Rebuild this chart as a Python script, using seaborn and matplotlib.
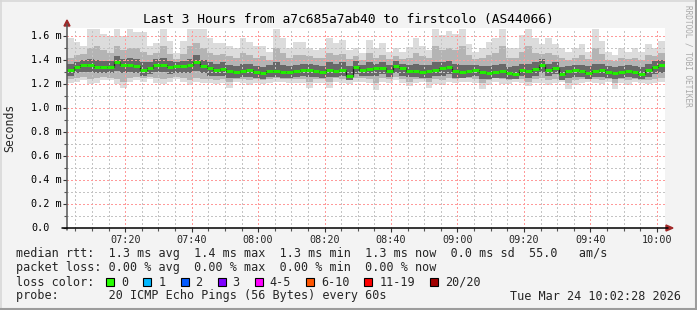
import numpy as np
import matplotlib
matplotlib.use("Agg")
import matplotlib.pyplot as plt
import matplotlib.transforms as mtrans
from matplotlib.patches import Rectangle, Polygon
from matplotlib.lines import Line2D
import seaborn as sns

# ---------------- data (2-minute steps, values in ms) ----------------
start_min = 7 * 60 + 2 + 28 / 60.0      # 07:02:28
step_min = 2.0

median = [1.32, 1.34, 1.36, 1.36, 1.34, 1.34, 1.34, 1.38, 1.36, 1.36, 1.35, 1.32, 1.33, 1.36, 1.36, 1.34, 1.35, 1.35,
          1.355, 1.385, 1.35, 1.33, 1.32, 1.325, 1.31, 1.30, 1.31, 1.32, 1.30, 1.29, 1.31, 1.31, 1.30, 1.30, 1.305, 1.32,
          1.32, 1.31, 1.30, 1.32, 1.31, 1.32, 1.27, 1.34, 1.32, 1.325, 1.33, 1.335, 1.31, 1.35, 1.33, 1.31, 1.305, 1.30,
          1.31, 1.32, 1.33, 1.34, 1.31, 1.30, 1.31, 1.32, 1.30, 1.295, 1.30, 1.305, 1.29, 1.28, 1.32, 1.31, 1.325, 1.36,
          1.32, 1.33, 1.28, 1.31, 1.32, 1.31, 1.295, 1.31, 1.32, 1.30, 1.295, 1.30, 1.31, 1.30, 1.285, 1.32, 1.34, 1.355]

smoke_max = [1.58, 1.55, 1.52, 1.66, 1.66, 1.62, 1.60, 1.66, 1.60, 1.66, 1.63, 1.63, 1.52, 1.54, 1.66, 1.56, 1.46, 1.56,
             1.66, 1.66, 1.66, 1.58, 1.54, 1.54, 1.52, 1.50, 1.58, 1.55, 1.52, 1.52, 1.47, 1.66, 1.58, 1.50, 1.55, 1.55,
             1.50, 1.48, 1.50, 1.58, 1.54, 1.57, 1.48, 1.50, 1.46, 1.57, 1.50, 1.54, 1.47, 1.50, 1.47, 1.51, 1.58, 1.52,
             1.48, 1.66, 1.61, 1.64, 1.62, 1.66, 1.53, 1.47, 1.50, 1.55, 1.58, 1.66, 1.50, 1.50, 1.61, 1.66, 1.58, 1.53,
             1.58, 1.53, 1.50, 1.47, 1.50, 1.53, 1.47, 1.66, 1.56, 1.47, 1.44, 1.50, 1.47, 1.50, 1.47, 1.53, 1.50, 1.56]

smoke_min = [1.21, 1.22, 1.23, 1.20, 1.21, 1.23, 1.23, 1.20, 1.17, 1.22, 1.23, 1.22, 1.24, 1.21, 1.20, 1.22, 1.24, 1.22,
             1.19, 1.22, 1.21, 1.21, 1.20, 1.21, 1.17, 1.22, 1.21, 1.19, 1.21, 1.20, 1.21, 1.22, 1.22, 1.21, 1.21, 1.21,
             1.17, 1.21, 1.21, 1.17, 1.22, 1.21, 1.20, 1.22, 1.22, 1.21, 1.15, 1.22, 1.21, 1.23, 1.21, 1.18, 1.21, 1.22,
             1.17, 1.20, 1.19, 1.22, 1.21, 1.22, 1.22, 1.21, 1.16, 1.19, 1.22, 1.20, 1.20, 1.22, 1.21, 1.18, 1.21, 1.21,
             1.19, 1.21, 1.22, 1.16, 1.19, 1.21, 1.22, 1.21, 1.20, 1.22, 1.16, 1.21, 1.19, 1.22, 1.21, 1.20, 1.21, 1.22]

smoke_hi = [1.42, 1.44, 1.45, 1.50, 1.52, 1.48, 1.46, 1.52, 1.48, 1.50, 1.50, 1.47, 1.44, 1.46, 1.52, 1.45, 1.41, 1.45,
            1.52, 1.54, 1.50, 1.46, 1.44, 1.45, 1.43, 1.42, 1.46, 1.44, 1.42, 1.43, 1.40, 1.50, 1.46, 1.42, 1.44, 1.44,
            1.43, 1.42, 1.42, 1.46, 1.44, 1.45, 1.41, 1.43, 1.40, 1.46, 1.42, 1.44, 1.41, 1.43, 1.41, 1.42, 1.46, 1.43,
            1.42, 1.52, 1.48, 1.50, 1.48, 1.52, 1.44, 1.41, 1.42, 1.44, 1.46, 1.52, 1.42, 1.42, 1.47, 1.52, 1.46, 1.45,
            1.46, 1.44, 1.42, 1.40, 1.42, 1.44, 1.41, 1.50, 1.45, 1.40, 1.39, 1.42, 1.41, 1.42, 1.40, 1.44, 1.43, 1.46]

smoke_lo = [1.24, 1.25, 1.26, 1.24, 1.25, 1.26, 1.25, 1.24, 1.22, 1.25, 1.26, 1.25, 1.26, 1.25, 1.24, 1.25, 1.26, 1.25,
            1.23, 1.25, 1.24, 1.24, 1.23, 1.24, 1.22, 1.24, 1.24, 1.23, 1.24, 1.23, 1.24, 1.25, 1.24, 1.24, 1.24, 1.24,
            1.22, 1.24, 1.24, 1.22, 1.25, 1.24, 1.23, 1.25, 1.25, 1.24, 1.21, 1.25, 1.24, 1.26, 1.24, 1.22, 1.24, 1.24,
            1.22, 1.24, 1.23, 1.25, 1.24, 1.25, 1.25, 1.24, 1.21, 1.23, 1.25, 1.24, 1.23, 1.24, 1.24, 1.22, 1.24, 1.25,
            1.23, 1.24, 1.24, 1.21, 1.23, 1.24, 1.24, 1.24, 1.23, 1.24, 1.21, 1.24, 1.23, 1.24, 1.23, 1.23, 1.24, 1.25]

core_hi = [1.37, 1.38, 1.40, 1.41, 1.40, 1.39, 1.39, 1.43, 1.41, 1.42, 1.41, 1.38, 1.38, 1.41, 1.42, 1.39, 1.38, 1.39,
           1.41, 1.44, 1.40, 1.38, 1.37, 1.38, 1.36, 1.35, 1.37, 1.37, 1.35, 1.34, 1.36, 1.38, 1.36, 1.35, 1.36, 1.37,
           1.37, 1.36, 1.35, 1.38, 1.37, 1.38, 1.35, 1.39, 1.36, 1.38, 1.37, 1.38, 1.36, 1.39, 1.37, 1.36, 1.37, 1.36,
           1.36, 1.38, 1.38, 1.39, 1.37, 1.36, 1.36, 1.36, 1.35, 1.35, 1.36, 1.37, 1.34, 1.35, 1.37, 1.37, 1.38, 1.41,
           1.37, 1.38, 1.34, 1.35, 1.36, 1.36, 1.35, 1.37, 1.37, 1.35, 1.34, 1.35, 1.36, 1.35, 1.34, 1.37, 1.39, 1.40]

core_lo = [1.27, 1.29, 1.30, 1.30, 1.29, 1.29, 1.29, 1.31, 1.29, 1.30, 1.29, 1.27, 1.28, 1.30, 1.30, 1.28, 1.29, 1.29,
           1.29, 1.31, 1.29, 1.27, 1.27, 1.27, 1.25, 1.25, 1.26, 1.26, 1.25, 1.24, 1.26, 1.26, 1.25, 1.25, 1.26, 1.27,
           1.26, 1.26, 1.25, 1.26, 1.26, 1.27, 1.23, 1.28, 1.27, 1.27, 1.27, 1.28, 1.26, 1.29, 1.27, 1.26, 1.26, 1.25,
           1.25, 1.27, 1.27, 1.28, 1.25, 1.25, 1.26, 1.27, 1.24, 1.24, 1.25, 1.25, 1.24, 1.24, 1.27, 1.25, 1.27, 1.29,
           1.27, 1.28, 1.23, 1.25, 1.26, 1.26, 1.24, 1.26, 1.26, 1.25, 1.24, 1.25, 1.26, 1.25, 1.24, 1.26, 1.28, 1.29]

x_tick_labels = ["07:20", "07:40", "08:00", "08:20", "08:40", "09:00", "09:20", "09:40", "10:00"]
x_tick_minutes = [440, 460, 480, 500, 520, 540, 560, 580, 600]
y_tick_values = [0.0, 0.2, 0.4, 0.6, 0.8, 1.0, 1.2, 1.4, 1.6]
y_tick_labels = ["0.0", "0.2 m", "0.4 m", "0.6 m", "0.8 m", "1.0 m", "1.2 m", "1.4 m", "1.6 m"]

title = "Last 3 Hours from a7c685a7ab40 to firstcolo (AS44066)"
legend_rtt = "median rtt:  1.3 ms avg  1.4 ms max  1.3 ms min  1.3 ms now  0.0 ms sd  55.0   am/s"
legend_loss = "packet loss: 0.00 % avg  0.00 % max  0.00 % min  0.00 % now"
loss_labels = ["0", "1", "2", "3", "4-5", "6-10", "11-19", "20/20"]
loss_colors = ["#26ff00", "#00b8ff", "#0059ff", "#7e00ff", "#ff00ff", "#ff5500", "#ff0000", "#a10000"]
probe_text = "probe:       20 ICMP Echo Pings (56 Bytes) every 60s"
date_text = "Tue Mar 24 10:02:28 2026"

# ---------------- figure ----------------
sns.set_style("white")
plt.rcParams['font.family'] = ['DejaVu Sans Mono', 'DejaVu Sans']

W, H = 697, 310
fig = plt.figure(figsize=(W / 100, H / 100), dpi=100)
fig.patch.set_facecolor('#f3f3f3')
L, R, T, B = 67, 665, 28, 228
ax = fig.add_axes([L / W, 1 - B / H, (R - L) / W, (B - T) / H])
ax.set_facecolor('white')
x0, x1 = start_min, start_min + 180
ax.set_xlim(x0, x1)
ax.set_ylim(0, 200 / 120)
for s in ax.spines.values():
    s.set_visible(False)

n = len(median)
edges = start_min + step_min * np.arange(n + 1)

def ext(a):
    a = np.asarray(a, float)
    return np.r_[a, a[-1]]

# smoke layers
ax.fill_between(edges, ext(smoke_min), ext(smoke_max), step='post', color='#dcdcdc', lw=0, zorder=1)
ax.fill_between(edges, ext(smoke_lo), ext(smoke_hi), step='post', color='#b4b4b4', lw=0, zorder=1.1)
ax.fill_between(edges, ext(core_lo), ext(core_hi), step='post', color='#686868', lw=0, zorder=1.2)

# grid (crisp dotted lines)
dot = (0, (1, 2))
gkw = dict(lw=0.75, ls=dot, antialiased=False)
for m in np.arange(425, 605, 5):
    if m % 20 == 0:
        continue
    ax.axvline(m, color='#c4c4c4', zorder=2, **gkw)
for m in x_tick_minutes:
    ax.axvline(m, color='#ff9a9a', zorder=2.1, **gkw)
for v in np.arange(0.1, 1.65, 0.2):
    ax.axhline(v, color='#c4c4c4', zorder=2, **gkw)
for v in y_tick_values[1:]:
    ax.axhline(v, color='#ff9a9a', zorder=2.1, **gkw)

# median line
sns.lineplot(x=edges, y=ext(median), drawstyle='steps-post', color='#202020', lw=0.9,
             ax=ax, zorder=3, estimator=None, sort=False)
ax.hlines(median, edges[:-1], edges[1:], color='#22ee00', lw=2.2, zorder=4)

# ticks
ax.set_xticks(x_tick_minutes)
ax.set_xticklabels(x_tick_labels, fontsize=7.3)
ax.set_xticks(np.arange(425, 605, 5), minor=True)
ax.tick_params(axis='x', which='major', direction='out', length=3, width=0.8, color='#333333', pad=2,
               bottom=True)
ax.tick_params(axis='x', which='minor', direction='out', length=2, width=0.8, color='#555555', bottom=True)
ax.set_yticks(y_tick_values)
ax.set_yticklabels([])
ax.set_yticks(np.arange(0.1, 1.65, 0.2), minor=True)
ax.tick_params(axis='y', which='major', direction='out', length=3, width=0.8, color='#333333', left=True)
ax.tick_params(axis='y', which='minor', direction='out', length=2, width=0.8, color='#555555', left=True)

trans = mtrans.blended_transform_factory(fig.transFigure, ax.transData)
for v, lab in zip(y_tick_values, y_tick_labels):
    ax.text(31 / W, v, lab, transform=trans, ha='left', va='center', fontsize=7.3, color='black')

# axes lines and arrows (figure pixel coords)
def fx(px):
    return px / W

def fy(py):
    return 1 - py / H

fig.add_artist(Line2D([fx(67), fx(67)], [fy(230), fy(24)], color='#555555', lw=1.1))
fig.add_artist(Line2D([fx(62), fx(668)], [fy(228), fy(228)], color='black', lw=1.1))
fig.add_artist(Polygon([[fx(64), fy(26)], [fx(70), fy(26)], [fx(67), fy(20)]], closed=True,
                       color='#a02828', transform=fig.transFigure))
fig.add_artist(Polygon([[fx(666), fy(225)], [fx(666), fy(231)], [fx(673), fy(228)]], closed=True,
                       color='#a02828', transform=fig.transFigure))

# texts
fig.text(0.5, fy(19), title, ha='center', va='center', fontsize=9.3, color='black')
fig.text(fx(10), fy(128), "Seconds", rotation=90, ha='center', va='center', fontsize=8.3)
fig.text(fx(688), fy(5), "RRDTOOL / TOBI OETIKER", rotation=270, ha='center', va='top',
         fontsize=5.6, color='#a8a8a8')

fs = 8.5
cw = 7.1
fig.text(fx(16), fy(254), legend_rtt, ha='left', va='center', fontsize=fs)
fig.text(fx(16), fy(268), legend_loss, ha='left', va='center', fontsize=fs)
fig.text(fx(16), fy(282), "loss color:", ha='left', va='center', fontsize=fs)
xpos = 16 + 13 * cw - 2
for lab, col in zip(loss_labels, loss_colors):
    fig.add_artist(Rectangle((fx(xpos), fy(286)), 8 / W, 8 / H, facecolor=col, edgecolor='black',
                             lw=0.8, transform=fig.transFigure))
    fig.text(fx(xpos + 15), fy(282), lab, ha='left', va='center', fontsize=fs)
    xpos = xpos + 15 + len(lab) * cw + 15
fig.text(fx(16), fy(296), probe_text, ha='left', va='center', fontsize=fs)
fig.text(fx(681), fy(296), date_text, ha='right', va='center', fontsize=fs)

# image border
fig.add_artist(Line2D([fx(0), fx(697)], [fy(0.5), fy(0.5)], color='#d8d8d8', lw=1.2))
fig.add_artist(Line2D([fx(0.5), fx(0.5)], [fy(0), fy(310)], color='#d8d8d8', lw=1.2))
fig.add_artist(Line2D([fx(0), fx(697)], [fy(309), fy(309)], color='#9c9c9c', lw=1.5))
fig.add_artist(Line2D([fx(696), fx(696)], [fy(0), fy(310)], color='#9c9c9c', lw=1.5))

fig.savefig("out.png", dpi=100, facecolor=fig.get_facecolor())
